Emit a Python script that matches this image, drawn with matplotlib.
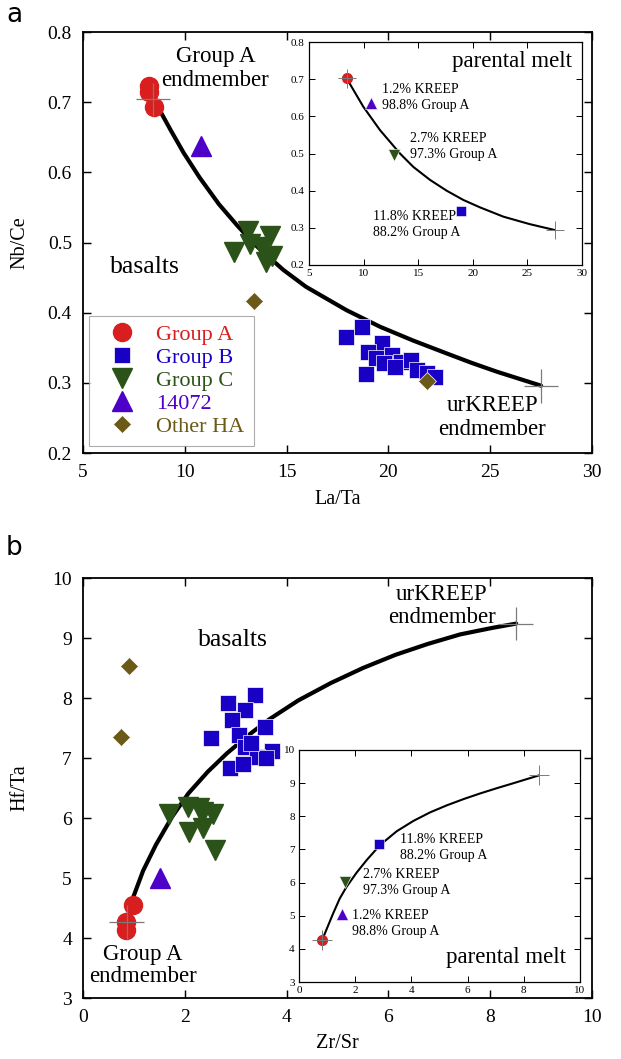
import matplotlib
matplotlib.use('Agg')
import matplotlib.pyplot as plt

plt.rcParams['font.family'] = ['Liberation Serif', 'DejaVu Serif']

# colours of the groups
c_a = '#d81e1e'
c_b = '#1800c4'
c_c = '#2a5219'
c_p = '#4c00c8'
c_h = '#6b5a17'

# ---- panel a: La/Ta vs Nb/Ce ----
a_grpA_x = [8.22, 8.25, 8.50]
a_grpA_y = [0.723, 0.714, 0.693]
a_grpB_x = [17.9, 18.7, 19.7, 19.0, 19.4, 18.9, 20.2, 20.6, 21.1, 21.4, 21.9, 22.3, 19.8, 20.3]
a_grpB_y = [0.366, 0.380, 0.357, 0.344, 0.335, 0.313, 0.340, 0.330, 0.333, 0.318, 0.314, 0.308, 0.328, 0.322]
a_grpC_x = [13.1, 14.2, 12.4, 13.2, 13.8, 14.0, 14.3]
a_grpC_y = [0.517, 0.510, 0.486, 0.498, 0.493, 0.472, 0.481]
a_14072_x = [10.8]
a_14072_y = [0.637]
a_othHA_x = [13.4, 21.9]
a_othHA_y = [0.417, 0.302]
a_end_x = [8.44, 27.5]
a_end_y = [0.704, 0.296]
a_end_xerr = 0.84
a_end_yerr = 0.024
a_curve_x = [8.44, 8.76, 9.31, 9.94, 10.73, 11.68, 12.63, 13.58, 14.84, 15.95, 17.95,
             19.59, 21.2, 22.86, 24.09, 25.32, 26.46, 27.5]
a_curve_y = [0.704, 0.689, 0.660, 0.628, 0.5925, 0.5545, 0.5225, 0.4935, 0.461, 0.437, 0.4035,
             0.380, 0.3605, 0.342, 0.3285, 0.316, 0.3055, 0.296]

# inset a (parental melt model)
ia_melt = (8.45, 0.702)
ia_mix_x = [10.7, 12.8, 18.9]
ia_mix_y = [0.637, 0.496, 0.345]
ia_mix_lbl = ['1.2% KREEP\n98.8% Group A', '2.7% KREEP\n97.3% Group A', '11.8% KREEP\n88.2% Group A']
ia_curve_x = [8.45, 9.97, 11.5, 13.33, 14.55, 16.08, 17.6, 19.13, 20.66, 22.8, 25.2, 27.5]
ia_curve_y = [0.702, 0.626, 0.563, 0.500, 0.464, 0.429, 0.400, 0.375, 0.355, 0.330, 0.310, 0.294]

# ---- panel b: Zr/Sr vs Hf/Ta ----
b_grpA_x = [0.99, 0.85, 0.85]
b_grpA_y = [4.55, 4.27, 4.14]
b_grpB_x = [2.51, 2.84, 3.37, 3.18, 2.92, 3.58, 3.07, 3.18, 3.71, 3.41, 2.89, 3.15, 3.60, 3.30]
b_grpB_y = [7.34, 7.92, 8.05, 7.80, 7.63, 7.52, 7.38, 7.19, 7.11, 7.02, 6.83, 6.90, 7.00, 7.25]
b_grpC_x = [1.68, 2.07, 2.36, 2.55, 2.09, 2.36, 2.59, 2.28]
b_grpC_y = [6.06, 6.19, 6.10, 6.07, 5.76, 5.83, 5.47, 6.17]
b_14072_x = [1.52]
b_14072_y = [5.0]
b_othHA_x = [0.91, 0.75]
b_othHA_y = [8.53, 7.35]
b_end_x = [0.86, 8.51]
b_end_y = [4.27, 9.24]
b_end_xerr = 0.34
b_end_yerr = 0.28
b_curve_x = [0.86, 0.96, 1.18, 1.43, 1.75, 2.07, 2.45, 2.83, 3.28, 3.66, 4.23, 4.87,
             5.50, 6.14, 6.77, 7.41, 8.05, 8.51]
b_curve_y = [4.27, 4.62, 5.12, 5.55, 6.02, 6.41, 6.77, 7.08, 7.40, 7.645, 7.96, 8.25,
             8.50, 8.72, 8.90, 9.06, 9.17, 9.24]

# inset b
ib_melt = (0.83, 4.28)
ib_mix_x = [1.53, 1.65, 2.85]
ib_mix_y = [5.04, 6.02, 7.16]
ib_mix_lbl = ['1.2% KREEP\n98.8% Group A', '2.7% KREEP\n97.3% Group A', '11.8% KREEP\n88.2% Group A']
ib_curve_x = [0.83, 1.21, 1.45, 1.69, 2.05, 2.40, 2.88, 3.48, 4.07, 4.67, 5.26, 5.86,
              6.45, 7.05, 7.64, 8.10, 8.53]
ib_curve_y = [4.28, 5.06, 5.52, 5.87, 6.30, 6.67, 7.13, 7.55, 7.86, 8.12, 8.33, 8.52,
              8.69, 8.85, 9.00, 9.12, 9.23]


def style_axes(ax, size, lw, ticklen, pad):
    ax.tick_params(direction='in', top=True, right=True, length=ticklen,
                   width=lw * 0.8, labelsize=size, pad=pad)
    for s in ax.spines.values():
        s.set_linewidth(lw)


def scatter_groups(ax, xs, ys):
    ax.plot(xs[0], ys[0], 'o', ms=13, color=c_a, mec=c_a, ls='none', label='Group A', zorder=4)
    ax.plot(xs[1], ys[1], 's', ms=12, color=c_b, mec='white', mew=0.5, ls='none', label='Group B', zorder=4)
    ax.plot(xs[2], ys[2], 'v', ms=15, color=c_c, mec=c_c, ls='none', label='Group C', zorder=4)
    ax.plot(xs[3], ys[3], '^', ms=15, color=c_p, mec=c_p, ls='none', label='14072', zorder=4)
    ax.plot(xs[4], ys[4], 'D', ms=9, color=c_h, mec='white', mew=0.5, ls='none', label='Other HA', zorder=4)


def inset_marks(ax, melt, mx, my, lw_err, xerr, yerr, end):
    ax.errorbar([melt[0], end[0]], [melt[1], end[1]], xerr=xerr, yerr=yerr, fmt='none',
                ecolor='#7a7a7a', elinewidth=lw_err, zorder=5)
    ax.plot([melt[0]], [melt[1]], 'o', ms=7, color=c_a, zorder=4)
    ax.plot(mx[0], my[0], '^', ms=8, color=c_p, mec='white', mew=0.4, zorder=4)
    ax.plot(mx[1], my[1], 'v', ms=8, color=c_c, mec='white', mew=0.4, zorder=4)
    ax.plot(mx[2], my[2], 's', ms=7, color=c_b, mec='white', mew=0.4, zorder=4)


fig = plt.figure(figsize=(6.21, 10.59), dpi=100)

# ================= panel a =================
ax1 = fig.add_axes([0.1337, 0.5722, 0.8196, 0.3975])
ax1.plot(a_curve_x, a_curve_y, color='black', lw=3, zorder=3,
         solid_capstyle='round', solid_joinstyle='round')
ax1.errorbar(a_end_x, a_end_y, xerr=a_end_xerr, yerr=a_end_yerr, fmt='none',
             ecolor='#7a7a7a', elinewidth=0.9, zorder=5)
scatter_groups(ax1, [a_grpA_x, a_grpB_x, a_grpC_x, a_14072_x, a_othHA_x],
               [a_grpA_y, a_grpB_y, a_grpC_y, a_14072_y, a_othHA_y])
ax1.set_xlim(5, 30)
ax1.set_ylim(0.2, 0.8)
ax1.set_xticks([5, 10, 15, 20, 25, 30])
ax1.set_yticks([0.2, 0.3, 0.4, 0.5, 0.6, 0.7, 0.8])
ax1.set_xlabel('La/Ta', fontsize=14.5, va='top')
ax1.set_ylabel('Nb/Ce', fontsize=14.5)
ax1.xaxis.set_label_coords(0.5, -0.088)
ax1.yaxis.set_label_coords(-0.105, 0.5)
style_axes(ax1, 14, 1.3, 6, 8)
ax1.text(11.5, 0.748, 'Group A\nendmember', ha='center', va='center', fontsize=16.5, linespacing=1.15)
ax1.text(8.05, 0.465, 'basalts', ha='center', va='center', fontsize=18.5)
ax1.text(25.1, 0.251, 'urKREEP\nendmember', ha='center', va='center', fontsize=16.5, linespacing=1.2)

leg = ax1.legend(loc='lower left', bbox_to_anchor=(0.011, 0.017), borderaxespad=0,
                 fontsize=16, frameon=True, fancybox=False, handletextpad=0.45,
                 labelspacing=0.11, borderpad=0.4, handlelength=2.2)
leg.get_frame().set_edgecolor('#999999')
leg.get_frame().set_linewidth(0.8)
for t, c in zip(leg.get_texts(), [c_a, c_b, c_c, c_p, c_h]):
    t.set_color(c)

# inset a
ia = fig.add_axes([0.4976, 0.7498, 0.4396, 0.2105])
ia.plot(ia_curve_x, ia_curve_y, color='black', lw=1.5, zorder=3, solid_joinstyle='round')
inset_marks(ia, ia_melt, ia_mix_x, ia_mix_y, 0.7, 0.84, 0.025, (27.5, 0.294))
ia.set_xlim(5, 30)
ia.set_ylim(0.2, 0.8)
ia.set_xticks([5, 10, 15, 20, 25, 30])
ia.set_yticks([0.2, 0.3, 0.4, 0.5, 0.6, 0.7, 0.8])
style_axes(ia, 8, 0.9, 4, 3)
ia.text(29.1, 0.747, 'parental melt', ha='right', va='center', fontsize=16.5)
ia.text(11.66, 0.652, ia_mix_lbl[0], ha='left', va='center', fontsize=10, linespacing=1.3)
ia.text(14.25, 0.520, ia_mix_lbl[1], ha='left', va='center', fontsize=10, linespacing=1.3)
ia.text(10.83, 0.310, ia_mix_lbl[2], ha='left', va='center', fontsize=10, linespacing=1.3)

# ================= panel b =================
ax2 = fig.add_axes([0.1337, 0.0576, 0.8196, 0.3966])
ax2.plot(b_curve_x, b_curve_y, color='black', lw=3, zorder=3,
         solid_capstyle='round', solid_joinstyle='round')
ax2.errorbar(b_end_x, b_end_y, xerr=b_end_xerr, yerr=b_end_yerr, fmt='none',
             ecolor='#7a7a7a', elinewidth=0.9, zorder=5)
scatter_groups(ax2, [b_grpA_x, b_grpB_x, b_grpC_x, b_14072_x, b_othHA_x],
               [b_grpA_y, b_grpB_y, b_grpC_y, b_14072_y, b_othHA_y])
ax2.set_xlim(0, 10)
ax2.set_ylim(3, 10)
ax2.set_xticks([0, 2, 4, 6, 8, 10])
ax2.set_yticks([3, 4, 5, 6, 7, 8, 9, 10])
ax2.set_xlabel('Zr/Sr', fontsize=14.5, va='top')
ax2.set_ylabel('Hf/Ta', fontsize=14.5)
ax2.xaxis.set_label_coords(0.5, -0.086)
ax2.yaxis.set_label_coords(-0.105, 0.5)
style_axes(ax2, 14, 1.3, 6, 8)
ax2.text(2.95, 8.97, 'basalts', ha='center', va='center', fontsize=18.5)
ax2.text(7.05, 9.54, 'urKREEP\nendmember', ha='center', va='center', fontsize=16.5, linespacing=1.12)
ax2.text(1.18, 3.545, 'Group A\nendmember', ha='center', va='center', fontsize=16.5, linespacing=1.08)

# inset b
ib = fig.add_axes([0.4815, 0.0727, 0.4525, 0.2191])
ib.plot(ib_curve_x, ib_curve_y, color='black', lw=1.5, zorder=3, solid_joinstyle='round')
inset_marks(ib, ib_melt, ib_mix_x, ib_mix_y, 0.7, 0.36, 0.3, (8.53, 9.25))
ib.set_xlim(0, 10)
ib.set_ylim(3, 10)
ib.set_xticks([0, 2, 4, 6, 8, 10])
ib.set_yticks([3, 4, 5, 6, 7, 8, 9, 10])
style_axes(ib, 8, 0.9, 4, 3)
ib.text(3.6, 7.07, ib_mix_lbl[2], ha='left', va='center', fontsize=10, linespacing=1.3)
ib.text(2.26, 5.99, ib_mix_lbl[1], ha='left', va='center', fontsize=10, linespacing=1.3)
ib.text(1.87, 4.77, ib_mix_lbl[0], ha='left', va='center', fontsize=10, linespacing=1.3)
ib.text(9.49, 3.75, 'parental melt', ha='right', va='center', fontsize=16.5)

# panel letters
fig.text(0.023, 0.986, 'a', family='DejaVu Sans', fontsize=19, ha='center', va='center')
fig.text(0.023, 0.483, 'b', family='DejaVu Sans', fontsize=19, ha='center', va='center')

fig.savefig('out.png', dpi=100)
